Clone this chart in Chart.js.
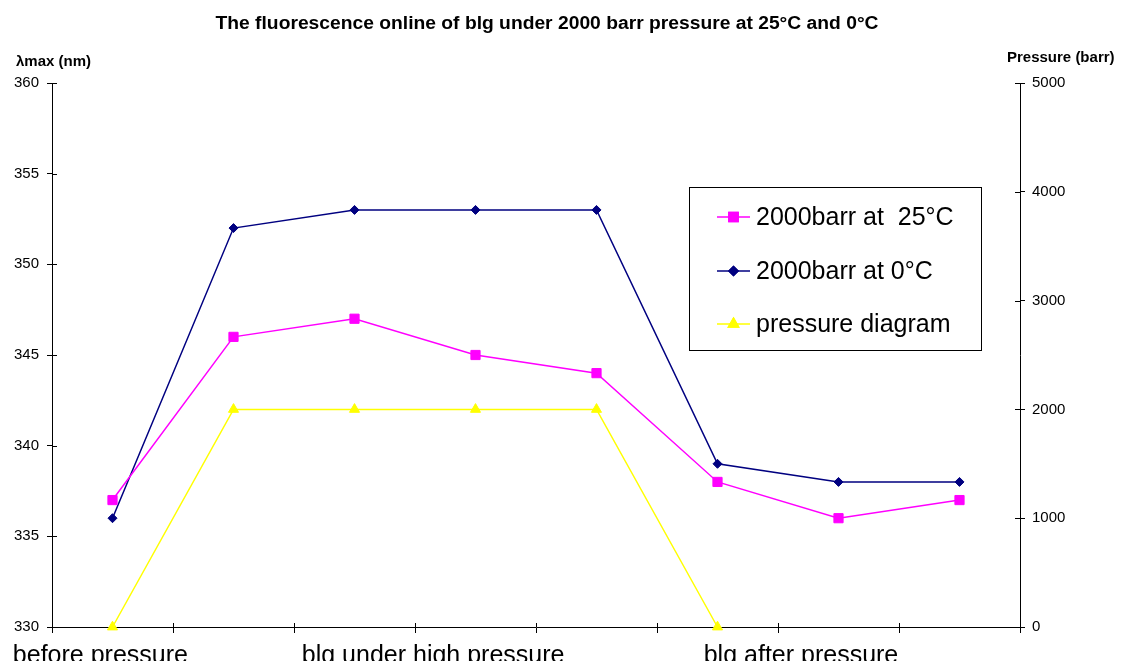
<!DOCTYPE html>
<html>
<head>
<meta charset="utf-8">
<script src="https://cdn.jsdelivr.net/npm/chart.js@4.4.1/dist/chart.umd.min.js"></script>
<style>
html,body{margin:0;padding:0;background:#fff;}
#wrap{width:1123px;height:661px;}
</style>
</head>
<body>
<div id="wrap"><canvas id="c" width="1123" height="661"></canvas></div>
<script>
// ---- data ----
const categories = ['1', '2', '3', '4', '5', '6', '7', '8'];
const phaseLabels = ['before pressure', 'blg under high pressure', 'blg after pressure'];
const phaseLabelPos = [-0.1, 2.65, 5.69];
const series25C = [337, 346, 347, 345, 344, 338, 336, 337];
const series0C = [336, 352, 353, 353, 353, 339, 338, 338];
const pressure = [0, 2000, 2000, 2000, 2000, 0, null, null];
const seriesNames = ['2000barr at  25\u00B0C', '2000barr at 0\u00B0C', 'pressure diagram'];
const leftTicks = [330, 335, 340, 345, 350, 355, 360];
const rightTicks = [0, 1000, 2000, 3000, 4000, 5000];
const chartTitle = 'The fluorescence online of blg under 2000 barr pressure at 25\u00B0C and 0\u00B0C';
const leftTitle = '\u03BBmax (nm)';
const rightTitle = 'Pressure (barr)';

const FONT = '"Liberation Sans", Arial, sans-serif';
const colors = ['#FF00FF', '#000080', '#FFFF00'];
const styles = ['rect', 'rectRot', 'triangle'];
const radii = [6.5, 4.5, 5.8];

const decoPlugin = {
  id: 'deco',
  afterDraw(chart) {
    const ctx = chart.ctx;
    const xs = chart.scales.x, yl = chart.scales.y, yr = chart.scales.y1;
    const ca = chart.chartArea;
    ctx.save();
    // inner halves of crossing tick marks
    ctx.strokeStyle = '#000';
    ctx.lineWidth = 1;
    ctx.beginPath();
    for (let i = 0; i <= categories.length; i++) {
      const px = Math.round(xs.getPixelForValue(i - 0.5)) + 0.5;
      ctx.moveTo(px, ca.bottom);
      ctx.lineTo(px, ca.bottom - 4);
    }
    leftTicks.forEach(v => {
      const py = Math.round(yl.getPixelForValue(v)) + 0.5;
      ctx.moveTo(ca.left, py); ctx.lineTo(ca.left + 5, py);
    });
    rightTicks.forEach(v => {
      const py = Math.round(yr.getPixelForValue(v)) + 0.5;
      ctx.moveTo(ca.right, py); ctx.lineTo(ca.right - 5, py);
    });
    ctx.stroke();

    // category phase labels
    ctx.fillStyle = '#000';
    ctx.font = '25px ' + FONT;
    ctx.textAlign = 'center';
    ctx.textBaseline = 'alphabetic';
    phaseLabels.forEach((t, i) => {
      ctx.fillText(t, xs.getPixelForValue(phaseLabelPos[i]), 663);
    });

    // title (condensed bold)
    ctx.font = 'bold 17.5px ' + FONT;
    const w = ctx.measureText(chartTitle).width;
    const target = 663;
    ctx.save();
    ctx.translate(547, 29);
    ctx.scale(target / w, 1);
    ctx.textAlign = 'center';
    ctx.fillText(chartTitle, 0, 0);
    ctx.restore();

    // axis titles
    ctx.font = 'bold 15px ' + FONT;
    ctx.textAlign = 'left';
    ctx.fillText(leftTitle, 16, 66);
    ctx.fillText(rightTitle, 1007, 62);

    // legend
    const bx = 689.5, by = 187.5, bw = 292, bh = 163;
    ctx.fillStyle = '#fff';
    ctx.fillRect(bx, by, bw, bh);
    ctx.strokeStyle = '#000';
    ctx.strokeRect(bx, by, bw, bh);
    const rows = [217, 271, 324];
    ctx.font = '25px ' + FONT;
    ctx.textBaseline = 'middle';
    chart.data.datasets.forEach((ds, i) => {
      const y = rows[i];
      ctx.strokeStyle = ds.borderColor;
      ctx.lineWidth = 1.5;
      ctx.beginPath();
      ctx.moveTo(717, y); ctx.lineTo(750, y);
      ctx.stroke();
      ctx.fillStyle = ds.borderColor;
      Chart.helpers.drawPoint(ctx, {pointStyle: styles[i], radius: radii[i], rotation: 0, borderWidth: 1}, 733.5, y);
      ctx.fill();
      ctx.stroke();
      ctx.fillStyle = '#000';
      ctx.fillText(seriesNames[i], 756, y + 1);
    });
    ctx.restore();
  }
};

const ds = (i, data, axis) => ({
  label: seriesNames[i],
  data: data,
  yAxisID: axis,
  borderColor: colors[i],
  backgroundColor: colors[i],
  pointBackgroundColor: colors[i],
  pointBorderColor: colors[i],
  pointStyle: styles[i],
  pointRadius: radii[i],
  pointBorderWidth: 1,
  borderWidth: 1.5,
  tension: 0,
  clip: false,
  spanGaps: false
});

new Chart(document.getElementById('c'), {
  type: 'line',
  data: {
    labels: categories,
    datasets: [
      ds(0, series25C, 'y'),
      ds(1, series0C, 'y'),
      ds(2, pressure, 'y1')
    ]
  },
  plugins: [decoPlugin],
  options: {
    responsive: false,
    animation: false,
    devicePixelRatio: 1,
    layout: {padding: {top: 83, left: 0, right: 0, bottom: 0}},
    plugins: {legend: {display: false}, title: {display: false}, tooltip: {enabled: false}},
    scales: {
      x: {
        type: 'category',
        offset: true,
        grid: {display: true, drawOnChartArea: false, offset: true, tickLength: 6, color: '#000'},
        border: {display: true, color: '#000', width: 1},
        ticks: {display: false},
        afterFit(s) { s.height = 34; }
      },
      y: {
        position: 'left',
        min: 330, max: 360,
        afterBuildTicks(s) { s.ticks = leftTicks.map(v => ({value: v})); },
        ticks: {font: {size: 15, family: FONT}, color: '#000', padding: 8, callback: v => String(v)},
        grid: {display: true, drawOnChartArea: false, tickLength: 5, color: '#000'},
        border: {display: true, color: '#000', width: 1},
        afterFit(s) { s.width = 52; }
      },
      y1: {
        position: 'right',
        min: 0, max: 5000,
        afterBuildTicks(s) { s.ticks = rightTicks.map(v => ({value: v})); },
        ticks: {font: {size: 15, family: FONT}, color: '#000', padding: 7, callback: v => String(v)},
        grid: {display: true, drawOnChartArea: false, tickLength: 5, color: '#000'},
        border: {display: true, color: '#000', width: 1},
        afterFit(s) { s.width = 103; }
      }
    }
  }
});
</script>
</body>
</html>
